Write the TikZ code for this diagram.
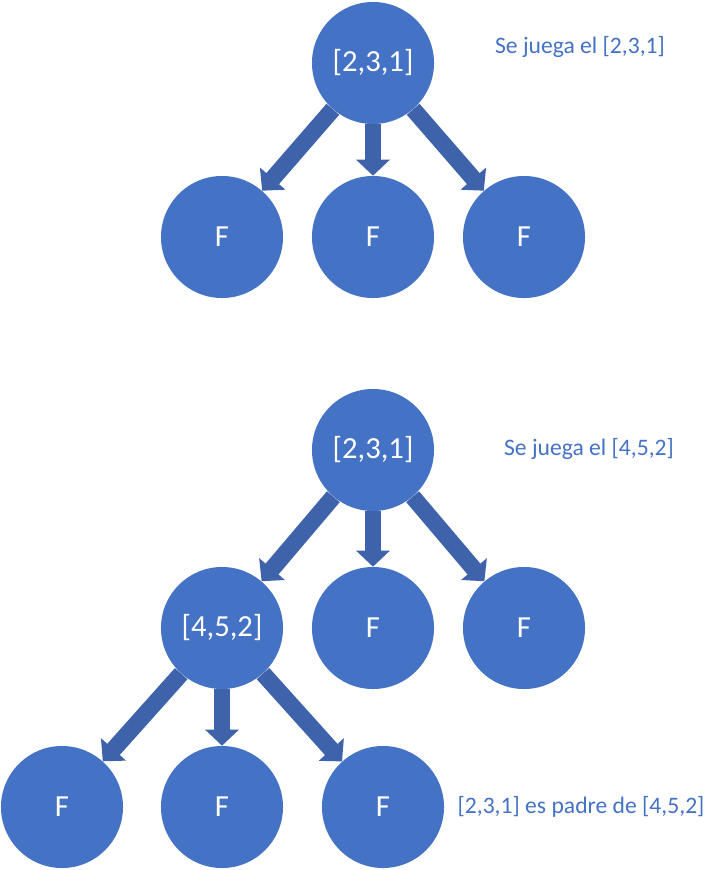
\documentclass[tikz,border=0pt]{standalone}
\usepackage{fontspec}
\setmainfont{Carlito}
\usepackage{tikz}
\usetikzlibrary{arrows.meta}

\definecolor{nodeblue}{HTML}{4472C4}
\definecolor{arrblue}{HTML}{3E63AB}

\begin{document}
\begin{tikzpicture}[x=0.025cm,y=-0.025cm,
    state/.style={circle,fill=nodeblue,text=white,inner sep=0pt,minimum size=3.05cm,font=\fontsize{21.8}{24}\selectfont},
    arr/.style={arrblue,line width=0.42cm,-{Triangle[length=0.4cm,width=0.82cm]}},
    note/.style={text=nodeblue,font=\fontsize{16.8}{19}\selectfont}]

    \useasboundingbox (0,0) rectangle (719,870);

    % First tree: root and its three children
    \node[state] (r1) at (373,63) {[2,3,1]};
    \foreach \i/\x in {1/222,2/373,3/524} {%
      \node[state] (a\i) at (\x,237) {F};
    }
    \node[note] (t1) at (580,47) {Se juega el [2,3,1]};

    \foreach \i in {1,2,3} {%
      \draw[arr] (r1) -- (a\i);
    }

    % Second tree: root, middle row and bottom row
    \node[state] (r2) at (373,450) {[2,3,1]};
    \node[state] (b1) at (222,628) {[4,5,2]};
    \node[state] (b2) at (373,628) {F};
    \node[state] (b3) at (524,628) {F};
    \foreach \i/\x in {1/62,2/222,3/383} {%
      \node[state] (c\i) at (\x,807) {F};
    }
    \node[note] (t2) at (589,449) {Se juega el [4,5,2]};
    \node[note] (t3) at (581,807) {[2,3,1] es padre de [4,5,2]};

    \foreach \i in {1,2,3} {%
      \draw[arr] (r2) -- (b\i);
      \draw[arr] (b1) -- (c\i);
    }

\end{tikzpicture}
\end{document}
